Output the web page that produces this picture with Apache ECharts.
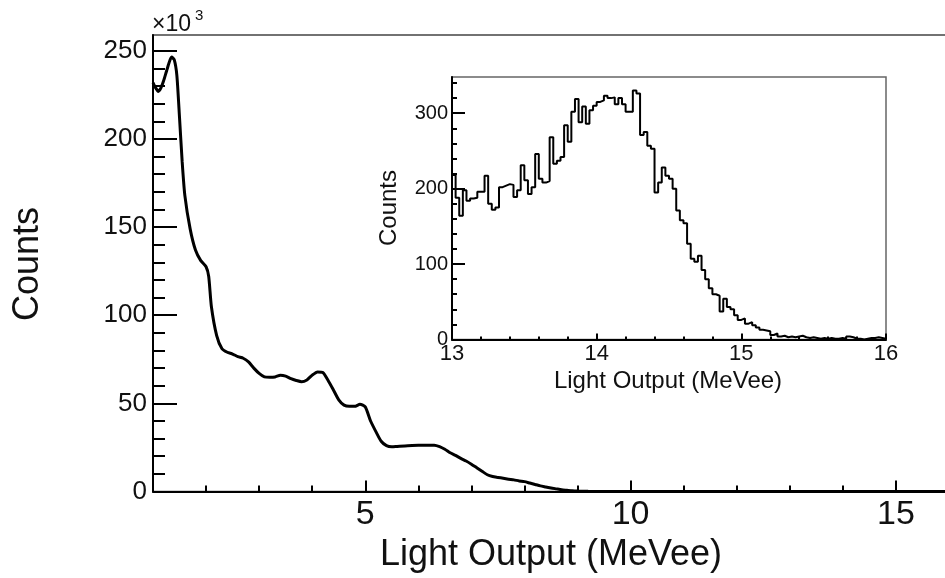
<!DOCTYPE html>
<html>
<head>
<meta charset="utf-8">
<script src="https://cdn.jsdelivr.net/npm/echarts@6/dist/echarts.min.js"></script>
<style>
html,body{margin:0;padding:0;background:#fff;overflow:hidden;}
#chart{width:945px;height:578px;}
</style>
</head>
<body>
<div id="chart"></div>
<script>
// ---------- DATA ----------
// Main spectrum: light output (MeVee) and counts (x10^3)
const mainX = [1.0,1.05,1.1,1.15,1.2,1.25,1.3,1.35,1.4,1.45,1.5,1.55,1.6,1.7,1.8,1.9,2.0,2.05,2.1,2.2,2.3,2.4,2.5,2.6,2.7,2.8,2.9,3.0,3.1,3.2,3.3,3.4,3.5,3.6,3.7,3.8,3.9,4.0,4.1,4.2,4.3,4.4,4.5,4.6,4.7,4.8,4.9,5.0,5.1,5.2,5.3,5.4,5.5,5.6,5.8,6.0,6.2,6.3,6.4,6.5,6.6,6.7,6.8,6.9,7.0,7.1,7.2,7.3,7.4,7.5,7.6,7.7,7.8,7.9,8.0,8.1,8.2,8.3,8.4,8.5,8.6,8.7,8.8,8.9,9.0,9.2,9.5,10.0,16.0];
const mainY = [232,229,227,229,233,238,243,246.5,245,236,212,187,168,149,137,131,127.5,122,105,88.5,81,79,78,76.5,75.6,73.5,70,67,65,64.8,65,66,65.5,64,63,62.3,63.3,66,67.8,67.5,63,57.6,52,49,48.3,48.3,49.5,48,40,34,28.5,26,25.4,25.6,26,26.2,26.3,26.3,25.5,24,22,20.5,18.8,17.3,15.5,13.5,11.5,9.5,8.5,8,7.5,7,6.6,6,5.6,4.8,4,3.2,2.6,2,1.5,1.0,0.7,0.4,0.25,0.1,0.05,0,0];

// Inset histogram: bin left edges start at 13 MeVee, bin width 0.025 MeVee
const insetStart = 13.0;
const insetBinWidth = 0.025;
const insetCounts = [218,188,164,198,184,187,188,196,196,217,180,172,175,202,204,206,205,189,198,231,211,193,202,246,213,208,210,268,233,237,242,284,262,302,319,288,309,286,304,310,315,317,323,320,321,312,320,312,302,302,330,326,271,275,257,253,195,208,228,217,213,200,171,158,154,127,107,103,111,92,80,68,60,58,37,54,43,40,32,26,28,21,23,19,16,13,12,11,6,8,4,5,3,4,3,4,5,3,2,3,2,1,2,1,2,1,1,2,1,4,3,1,1,0,1,2,2,3,2,1];

// Tick values
const mainXMajor = [5,10,15];
const mainXMinor = [2,3,4,6,7,8,9,11,12,13,14,16];
const mainYMajor = [0,50,100,150,200,250];
const mainYMinor = [10,20,30,40,60,70,80,90,110,120,130,140,160,170,180,190,210,220,230,240];
const insetXMajor = [13,14,15,16];
const insetXMinor = [13.2,13.4,13.6,13.8,14.2,14.4,14.6,14.8,15.2,15.4,15.6,15.8];
const insetYMajor = [0,100,200,300];
const insetYMinor = [20,40,60,80,120,140,160,180,220,240,260,280,320,340];

// ---------- BUILD ----------
const FONT = "'Liberation Sans', Arial, Helvetica, sans-serif";
const mainData = mainX.map((x, i) => [x, mainY[i]]);
const insetData = insetCounts.map((v, i) => [+(insetStart + i * insetBinWidth).toFixed(4), v]);
insetData.push([insetStart + insetCounts.length * insetBinWidth, insetCounts[insetCounts.length - 1]]);

const chart = echarts.init(document.getElementById('chart'), null, {renderer: 'canvas'});

function xAxisMajor(grid, min, max, ticks, tickLen, fontSize, margin) {
  return {
    type: 'value', gridIndex: grid, position: 'bottom', min: min, max: max,
    axisLine: {show: true, lineStyle: {color: '#000', width: 2}},
    axisTick: {show: true, inside: true, length: tickLen, customValues: ticks, lineStyle: {color: '#000', width: 2}},
    axisLabel: {show: true, customValues: ticks, fontSize: fontSize, margin: margin, color: '#111', fontFamily: FONT},
    splitLine: {show: false}
  };
}
function xAxisMinor(grid, min, max, ticks, tickLen) {
  return {
    type: 'value', gridIndex: grid, position: 'bottom', min: min, max: max,
    axisLine: {show: false},
    axisTick: {show: true, inside: true, length: tickLen, customValues: ticks, lineStyle: {color: '#000', width: 2}},
    axisLabel: {show: false},
    splitLine: {show: false}
  };
}
function yAxisMajor(grid, min, max, ticks, tickLen, fontSize, margin) {
  return {
    type: 'value', gridIndex: grid, position: 'left', min: min, max: max,
    axisLine: {show: true, lineStyle: {color: '#000', width: 2}},
    axisTick: {show: true, inside: true, length: tickLen, customValues: ticks, lineStyle: {color: '#000', width: 2}},
    axisLabel: {show: true, customValues: ticks, fontSize: fontSize, margin: margin, color: '#111', fontFamily: FONT},
    splitLine: {show: false}
  };
}
function yAxisMinor(grid, min, max, ticks, tickLen) {
  return {
    type: 'value', gridIndex: grid, position: 'left', min: min, max: max,
    axisLine: {show: false},
    axisTick: {show: true, inside: true, length: tickLen, customValues: ticks, lineStyle: {color: '#000', width: 2}},
    axisLabel: {show: false},
    splitLine: {show: false}
  };
}

const option = {
  animation: false,
  backgroundColor: '#fff',
  grid: [
    {left: 153, top: 35, width: 796, height: 456.5, outerBoundsMode: 'none', containLabel: false,
     show: true, borderColor: '#444', borderWidth: 1.5, backgroundColor: 'transparent'},
    {left: 452, top: 77, width: 434, height: 262.5, outerBoundsMode: 'none', containLabel: false,
     show: true, borderColor: '#666', borderWidth: 1.5, backgroundColor: '#fff'}
  ],
  xAxis: [
    xAxisMajor(0, 1, 16, mainXMajor, 11, 34, 6),
    xAxisMinor(0, 1, 16, mainXMinor, 6),
    xAxisMajor(1, 13, 16, insetXMajor, 6, 22, 3),
    xAxisMinor(1, 13, 16, insetXMinor, 3)
  ],
  yAxis: [
    yAxisMajor(0, 0, 259, mainYMajor, 24, 26, 6),
    yAxisMinor(0, 0, 259, mainYMinor, 12),
    yAxisMajor(1, 0, 348, insetYMajor, 13, 20, 4),
    yAxisMinor(1, 0, 348, insetYMinor, 5)
  ],
  series: [
    {
      type: 'line', xAxisIndex: 0, yAxisIndex: 0, data: mainData,
      showSymbol: false, smooth: 0.2, clip: true,
      lineStyle: {color: '#000', width: 3}, z: 3
    },
    {
      type: 'line', xAxisIndex: 2, yAxisIndex: 2, data: insetData,
      showSymbol: false, step: 'end', clip: true,
      lineStyle: {color: '#000', width: 2}, z: 5
    }
  ],
  graphic: [
    {type: 'text', x: 28, y: 264, rotation: Math.PI / 2,
     style: {text: 'Counts', font: '36px ' + FONT, fill: '#111', align: 'center', verticalAlign: 'middle'}},
    {type: 'text', x: 551, y: 555,
     style: {text: 'Light Output (MeVee)', font: '36px ' + FONT, fill: '#111', align: 'center', verticalAlign: 'middle'}},
    {type: 'text', x: 152, y: 25,
     style: {text: '×10', font: '23px ' + FONT, fill: '#111', align: 'left', verticalAlign: 'middle'}},
    {type: 'text', x: 195, y: 16,
     style: {text: '3', font: '15px ' + FONT, fill: '#111', align: 'left', verticalAlign: 'middle'}},
    {type: 'text', x: 389, y: 208, rotation: Math.PI / 2,
     style: {text: 'Counts', font: '24px ' + FONT, fill: '#111', align: 'center', verticalAlign: 'middle'}},
    {type: 'text', x: 668, y: 381,
     style: {text: 'Light Output (MeVee)', font: '24px ' + FONT, fill: '#111', align: 'center', verticalAlign: 'middle'}}
  ]
};
chart.setOption(option);
</script>
</body>
</html>
